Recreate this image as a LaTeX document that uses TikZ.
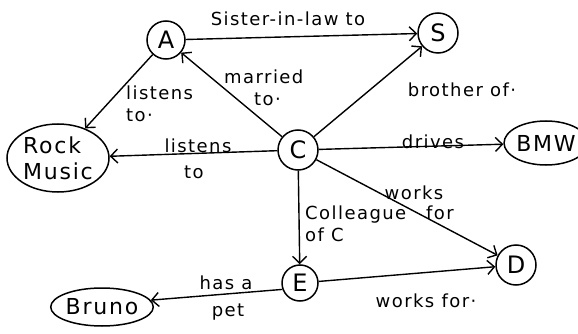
\documentclass[tikz,border=0pt]{standalone}
\usepackage{fontspec}
\setmainfont{DejaVu Sans}
\newfontfamily\hand[LetterSpace=8]{DejaVu Sans}
\usetikzlibrary{arrows.meta,shapes.geometric}
\begin{document}
\begin{tikzpicture}[x=1pt,y=-1pt,
  ent/.style={draw,circle,line width=1.5pt,inner sep=0pt,font=\hand\fontsize{24}{26}\selectfont},
  ell/.style={draw,ellipse,line width=1.5pt,inner sep=0pt,font=\hand\fontsize{22}{26}\selectfont},
  lab/.style={inner sep=0pt,font=\hand\fontsize{18}{22}\selectfont},
  arr/.style={line width=1.4pt,-{Straight Barb[length=7pt,width=14pt,line width=1.4pt]}}]
\useasboundingbox (0,0) rectangle (578,334);
% entities
\node[ent,minimum size=38pt] (A) at (166,40) {A};
\node[ent,minimum size=40pt] (S) at (438,33) {S};
\node[ent,minimum size=40pt] (C) at (298,150) {C};
\node[ent,minimum size=36pt] (E) at (300,283) {E};
\node[ent,minimum size=40pt] (D) at (516,265) {D};
\node[ell,minimum width=102pt,minimum height=68pt,align=left] (R) at (58,158) {Rock\\Music};
\node[ell,minimum width=80pt,minimum height=44pt] (B) at (546,143) {BMW};
\node[ell,minimum width=102pt,minimum height=38pt] (U) at (102,307) {Bruno};
% edges
\draw[arr] (A) -- (S);
\draw[arr] (C) -- (A);
\draw[arr] (A) -- (R);
\draw[arr] (C) -- (S);
\draw[arr] (C) -- (R);
\draw[arr] (C) -- (B);
\draw[arr] (C) -- (E);
\draw[arr] (C) -- (D);
\draw[arr] (E) -- (D);
\draw[arr] (E.200) -- (U.8);
% labels
\node[lab] (l1) at (288,19) {Sister-in-law to};
\node[lab,align=left,anchor=west] (l2) at (224,88) {married\\\hspace{30pt}to·};
\node[lab,align=left,anchor=west] (l3) at (126,104) {listens\\to·};
\node[lab] (l4) at (462,90) {brother of·};
\node[lab] (l5) at (198,146) {listens};
\node[lab] (l6) at (194,172) {to};
\node[lab] (l7) at (433,142) {drives};
\node[lab,align=left,anchor=west] (l8) at (305,224) {Colleague\\of C};
\node[lab] (l9) at (414,193) {works};
\node[lab] (l10) at (440,213) {for};
\node[lab] (l11) at (226,283) {has a};
\node[lab] (l12) at (228,312) {pet};
\node[lab] (l13) at (426,301) {works for·};
\end{tikzpicture}
\end{document}
